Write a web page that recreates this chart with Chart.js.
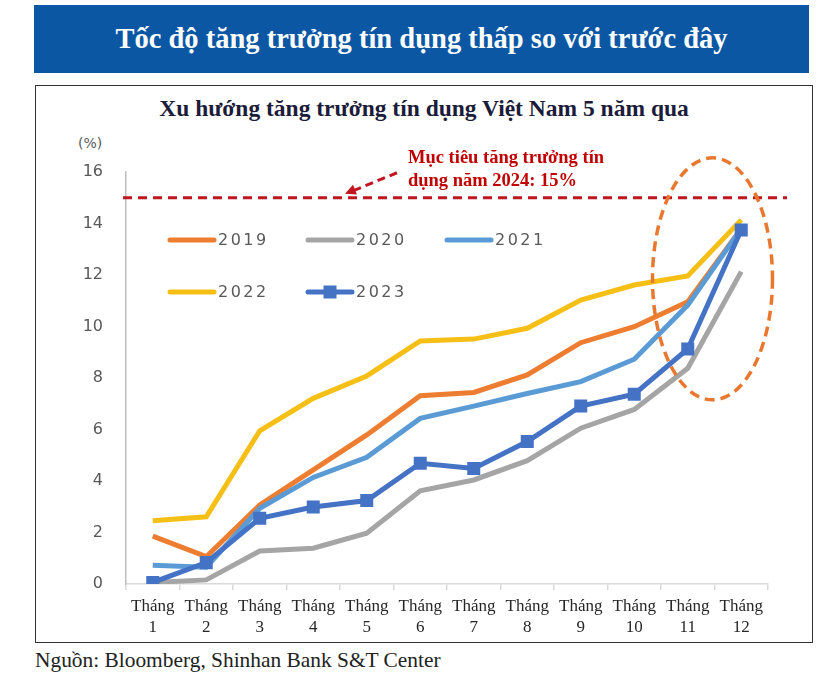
<!DOCTYPE html>
<html>
<head>
<meta charset="utf-8">
<script src="https://cdn.jsdelivr.net/npm/chart.js@4.4.0/dist/chart.umd.min.js"></script>
<style>
  body { margin: 0; background: #fff; width: 823px; height: 683px; position: relative; overflow: hidden; }
  #banner {
    position: absolute; left: 34px; top: 5px; width: 775px; height: 68px;
    background: #0b57a4; color: #fff; text-align: center;
    font: bold 28.5px "Liberation Serif", serif; line-height: 68px;
  }
  #box {
    position: absolute; left: 35px; top: 85px; width: 778px; height: 558px;
    border: 1.5px solid #333; box-sizing: border-box;
  }
  #chartTitle {
    position: absolute; left: 35px; top: 95px; width: 778px; text-align: center;
    font: bold 23.5px "Liberation Serif", serif; color: #1c1c3a;
  }
  #unit {
    position: absolute; left: 78px; top: 135px; font: 14px "DejaVu Sans", sans-serif; color: #595959;
  }
  #wrap { position: absolute; left: 36px; top: 132px; }
  #source {
    position: absolute; left: 35px; top: 648px; font: 21.4px "Liberation Serif", serif; color: #222;
  }
</style>
</head>
<body>
<div id="banner">Tốc độ tăng trưởng tín dụng thấp so với trước đây</div>
<div id="box"></div>
<div id="chartTitle">Xu hướng tăng trưởng tín dụng Việt Nam 5 năm qua</div>
<div id="unit">(%)</div>
<div id="wrap"><canvas id="creditChart" width="774" height="508"></canvas></div>
<div id="source">Nguồn: Bloomberg, Shinhan Bank S&amp;T Center</div>

<script>
/* ---------------------------------------------------
    Data
---------------------------------------------------*/
const months = ["1", "2", "3", "4", "5", "6", "7", "8", "9", "10", "11", "12"];
const years = ["2019", "2020", "2021", "2022", "2023"];

const growth2019 = [1.86, 1.06, 3.07, 4.43, 5.79, 7.31, 7.44, 8.12, 9.37, 9.99, 10.96, 13.80];
const growth2020 = [0.06, 0.16, 1.28, 1.39, 1.97, 3.62, 4.04, 4.79, 6.05, 6.78, 8.38, 12.13];
const growth2021 = [0.73, 0.65, 2.94, 4.14, 4.92, 6.43, 6.91, 7.40, 7.86, 8.73, 10.83, 13.80];
const growth2022 = [2.46, 2.61, 5.95, 7.21, 8.08, 9.44, 9.51, 9.93, 11.03, 11.61, 11.96, 14.14];
const growth2023 = [0.06, 0.83, 2.55, 2.99, 3.24, 4.69, 4.49, 5.53, 6.91, 7.37, 9.13, 13.75];

const yTicks = [0, 2, 4, 6, 8, 10, 12, 14, 16];
const target2024 = 15;
const targetText = ["Mục tiêu tăng trưởng tín", "dụng năm 2024: 15%"];

const colors = ["#ed7d31", "#a5a5a5", "#5b9bd5", "#f5bf16", "#4472c4"];
const seriesData = [growth2019, growth2020, growth2021, growth2022, growth2023];

/* ---------------------------------------------------
    Helper: overlays (target line, note, ellipse, legend)
---------------------------------------------------*/
const overlayPlugin = {
    id: "overlay",
    afterDatasetsDraw(chart) {
        const { ctx, chartArea, scales } = chart;
        const x = scales.x, y = scales.y;
        const yT = y.getPixelForValue(target2024);

        ctx.save();
        // target dashed line
        ctx.strokeStyle = "#c0161f";
        ctx.lineWidth = 3;
        ctx.setLineDash([9, 6]);
        ctx.beginPath();
        ctx.moveTo(chartArea.left - 3, yT);
        ctx.lineTo(chartArea.right + 19, yT);
        ctx.stroke();

        // arrow to the line
        const tipX = chartArea.left + 219, tipY = yT - 4;
        const tailX = chartArea.left + 271, tailY = yT - 25;
        ctx.setLineDash([8, 5]);
        ctx.lineWidth = 3;
        ctx.beginPath();
        ctx.moveTo(tailX, tailY);
        ctx.lineTo(tipX + 8, tipY - 3);
        ctx.stroke();
        ctx.setLineDash([]);
        const ang = Math.atan2(tipY - tailY, tipX - tailX);
        ctx.fillStyle = "#c0161f";
        ctx.beginPath();
        ctx.moveTo(tipX, tipY);
        ctx.lineTo(tipX - 12 * Math.cos(ang - 0.45), tipY - 12 * Math.sin(ang - 0.45));
        ctx.lineTo(tipX - 12 * Math.cos(ang + 0.45), tipY - 12 * Math.sin(ang + 0.45));
        ctx.closePath();
        ctx.fill();

        // note text
        ctx.font = "bold 18.5px 'Liberation Serif', serif";
        ctx.fillStyle = "#c00000";
        ctx.textBaseline = "middle";
        ctx.textAlign = "left";
        ctx.fillText(targetText[0], chartArea.left + 282, yT - 40);
        ctx.fillText(targetText[1], chartArea.left + 282, yT - 17);

        // ellipse around the year end
        const cx = (x.getPixelForValue(10) + x.getPixelForValue(11)) / 2 - 2;
        const cy = y.getPixelForValue(11.85);
        ctx.strokeStyle = "#e8782f";
        ctx.lineWidth = 3.5;
        ctx.setLineDash([10, 6]);
        ctx.beginPath();
        ctx.ellipse(cx, cy, 60, 121, 0, 0, Math.PI * 2);
        ctx.stroke();
        ctx.setLineDash([]);

        // legend, two rows inside the plot
        const cols = [44, 182, 321];
        chart.data.datasets.forEach((ds, i) => {
            const lx = chartArea.left + cols[i % 3];
            const ly = chartArea.top + (i < 3 ? 68 : 120);
            ctx.strokeStyle = ds.borderColor;
            ctx.lineWidth = 5;
            ctx.lineCap = "round";
            ctx.beginPath();
            ctx.moveTo(lx, ly);
            ctx.lineTo(lx + 44, ly);
            ctx.stroke();
            if (ds.pointStyle === "rect") {
                ctx.fillStyle = ds.pointBackgroundColor;
                ctx.fillRect(lx + 22 - 6.5, ly - 6.5, 13, 13);
            }
            ctx.fillStyle = "#595959";
            ctx.font = "16px 'DejaVu Sans', sans-serif";
            ctx.letterSpacing = "2.5px";
            ctx.fillText(ds.label, lx + 48, ly + 1);
            ctx.letterSpacing = "0px";
        });
        ctx.restore();
    }
};

/* ---------------------------------------------------
    Chart
---------------------------------------------------*/
const datasets = years.map((yr, i) => ({
    label: yr,
    data: seriesData[i],
    borderColor: colors[i],
    backgroundColor: colors[i],
    borderWidth: 5,
    tension: 0,
    pointRadius: yr === "2023" ? 9.2 : 0,
    pointStyle: yr === "2023" ? "rect" : "circle",
    pointBackgroundColor: colors[i],
    pointBorderWidth: 0,
    order: yr === "2023" ? 0 : 5 - i
}));

new Chart(document.getElementById("creditChart").getContext("2d"), {
    type: "line",
    data: { labels: months.map(m => ["Tháng", m]), datasets: datasets },
    options: {
        responsive: false,
        animation: false,
        devicePixelRatio: 1,
        layout: { padding: { top: 40, right: 42, left: 0, bottom: 0 } },
        plugins: { legend: { display: false }, tooltip: { enabled: false } },
        scales: {
            x: {
                offset: true,
                grid: { offset: true, drawOnChartArea: false, color: "#d9d9d9", tickLength: 6, lineWidth: 1.5 },
                border: { color: "#d9d9d9", width: 1.5 },
                ticks: { color: "#262626", font: { family: "'Liberation Serif', serif", size: 17, lineHeight: 1.25 }, padding: 6, maxRotation: 0, autoSkip: false },
                afterFit(s) { s.height = 56; }
            },
            y: {
                min: 0, max: 16,
                afterBuildTicks(s) { s.ticks = yTicks.map(v => ({ value: v })); },
                grid: { display: false, drawTicks: false },
                border: { color: "#bfbfbf", width: 1.5 },
                ticks: { color: "#595959", font: { family: "'DejaVu Sans', sans-serif", size: 16 }, padding: 23 },
                afterFit(s) { s.width = 90; }
            }
        }
    },
    plugins: [overlayPlugin]
});
</script>
</body>
</html>
